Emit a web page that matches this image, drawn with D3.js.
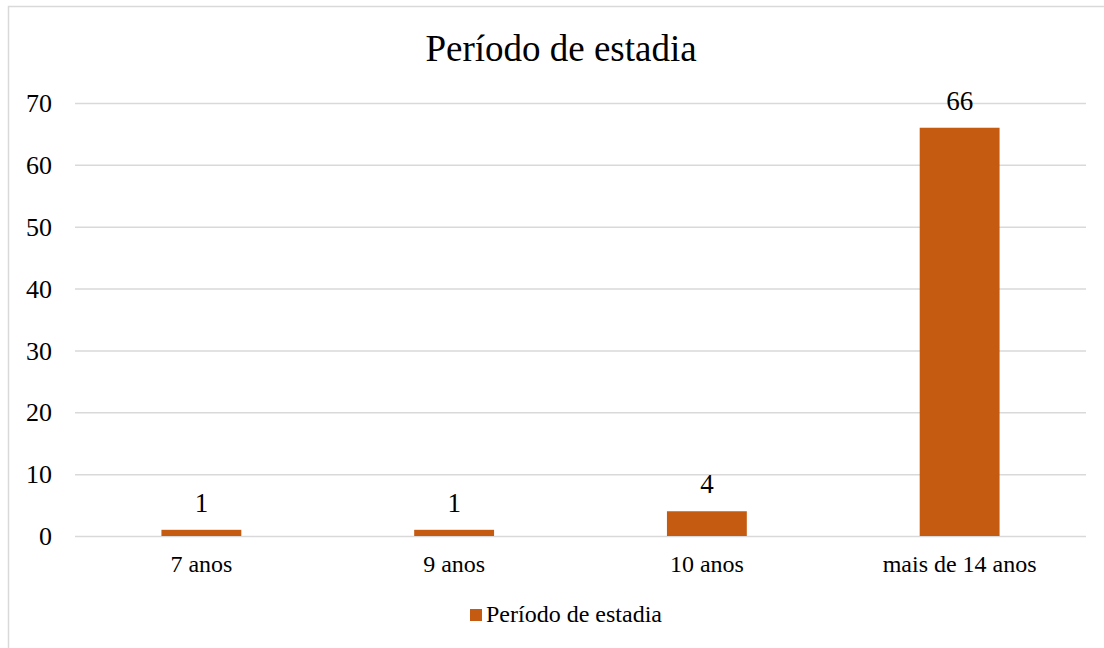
<!DOCTYPE html>
<html>
<head>
<meta charset="utf-8">
<script src="https://cdn.jsdelivr.net/npm/d3@7"></script>
<style>
  body { margin: 0; background: #fff; }
  svg text { font-family: "Liberation Serif", "Times New Roman", serif; fill: #000; }
</style>
</head>
<body>
<div id="chart"></div>
<script>
// data
var categories = ["7 anos", "9 anos", "10 anos", "mais de 14 anos"];
var values = [1, 1, 4, 66];
var yTicks = [0, 10, 20, 30, 40, 50, 60, 70];
var seriesName = "Período de estadia";
var title = "Período de estadia";

var width = 1104, height = 648;
var barColor = "#C55A11";

var svg = d3.select("#chart").append("svg")
  .attr("width", width)
  .attr("height", height);

// chart border (right/bottom edges run off the picture)
svg.append("rect")
  .attr("x", 8.5).attr("y", 6.5)
  .attr("width", 1120).attr("height", 660)
  .attr("fill", "#fff")
  .attr("stroke", "#d9d9d9")
  .attr("stroke-width", 1.5);

var plot = { left: 75, right: 1086, top: 103, bottom: 536 };

var x = d3.scaleBand()
  .domain(categories)
  .range([plot.left, plot.right])
  .paddingInner(0.684)
  .paddingOuter(0.342);

var y = d3.scaleLinear()
  .domain([0, 70])
  .range([plot.bottom, plot.top]);

// title
svg.append("text")
  .attr("x", 561).attr("y", 61)
  .attr("text-anchor", "middle")
  .style("font-size", "37px")
  .text(title);

// y axis + gridlines
var yAxis = d3.axisLeft(y)
  .tickValues(yTicks)
  .tickSize(-(plot.right - plot.left))
  .tickPadding(23);

var gy = svg.append("g")
  .attr("transform", "translate(" + plot.left + ",0)")
  .call(yAxis);
gy.select(".domain").remove();
gy.selectAll(".tick line")
  .attr("stroke", "#d9d9d9")
  .attr("stroke-width", 1.5);
gy.selectAll(".tick text")
  .style("font-size", "26px")
  .attr("dy", "0.33em");

// x axis labels
var xAxis = d3.axisBottom(x).tickSize(0).tickPadding(19);
var gx = svg.append("g")
  .attr("transform", "translate(0," + plot.bottom + ")")
  .call(xAxis);
gx.select(".domain").remove();
gx.selectAll(".tick text")
  .style("font-size", "24px")
  .attr("dy", "0.71em");

// bars
svg.append("g").selectAll("rect")
  .data(values)
  .enter().append("rect")
  .attr("x", function(d, i) { return x(categories[i]); })
  .attr("y", function(d) { return y(d); })
  .attr("width", x.bandwidth())
  .attr("height", function(d) { return y(0) - y(d); })
  .attr("fill", barColor);

// data labels
svg.append("g").selectAll("text")
  .data(values)
  .enter().append("text")
  .attr("x", function(d, i) { return x(categories[i]) + x.bandwidth() / 2; })
  .attr("y", function(d) { return y(d) - 18; })
  .attr("text-anchor", "middle")
  .style("font-size", "27px")
  .text(function(d) { return d; });

// legend
var legend = svg.append("g").attr("transform", "translate(470,609)");
legend.append("rect")
  .attr("width", 12).attr("height", 12)
  .attr("fill", barColor);
legend.append("text")
  .attr("x", 16).attr("y", 13)
  .style("font-size", "24px")
  .text(seriesName);
</script>
</body>
</html>
